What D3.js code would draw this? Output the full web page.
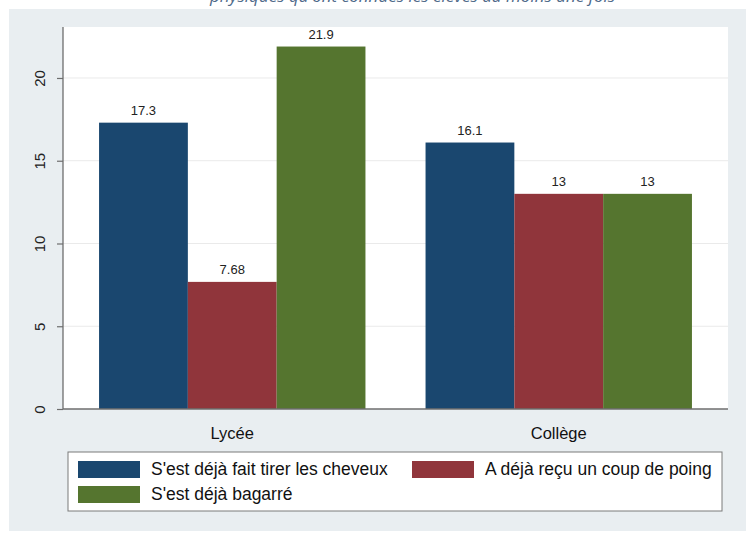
<!DOCTYPE html>
<html>
<head>
<meta charset="utf-8">
<script src="https://cdn.jsdelivr.net/npm/d3@7"></script>
<style>
  html, body { margin: 0; padding: 0; background: #ffffff; }
  svg { display: block; }
  text { font-family: "Liberation Sans", Arial, Helvetica, sans-serif; }
</style>
</head>
<body>
<svg id="chart" width="750" height="534"></svg>
<script>
// Categories, series and values
const categories = ["Lycée", "Collège"];
const seriesNames = [
  "S'est déjà fait tirer les cheveux",
  "A déjà reçu un coup de poing",
  "S'est déjà bagarré"
];
const lyceeValues = [17.3, 7.68, 21.9];
const collegeValues = [16.1, 13, 13];
const valueLabels = [["17.3", "7.68", "21.9"], ["16.1", "13", "13"]];
const yTicks = [0, 5, 10, 15, 20];
const seriesColors = ["#1a476f", "#90353b", "#55752f"];
const headline = "physiques qu'ont connues les élèves au moins une fois";

const rows = categories.map((c, i) => ({
  category: c,
  values: (i === 0 ? lyceeValues : collegeValues),
  labels: valueLabels[i]
}));

const svg = d3.select("#chart");

// Heading line, mostly above the frame
svg.append("text")
  .attr("x", 210).attr("y", 2)
  .attr("font-style", "italic")
  .attr("font-size", 17)
  .attr("fill", "#4f6a8a")
  .style("font-family", "'Open Sans', sans-serif")
  .text(headline);

// Graph region background
svg.append("rect")
  .attr("x", 9).attr("y", 9)
  .attr("width", 737).attr("height", 522)
  .attr("fill", "#e9eef1");

const plot = { left: 63, right: 728, top: 27, bottom: 409 };

// Plot region
svg.append("rect")
  .attr("x", plot.left).attr("y", plot.top)
  .attr("width", plot.right - plot.left).attr("height", plot.bottom - plot.top)
  .attr("fill", "#ffffff");

const y = d3.scaleLinear().domain([0, 23.08]).range([plot.bottom, plot.top]);

const x0 = d3.scaleBand()
  .domain(categories)
  .range([plot.left, plot.right])
  .paddingInner(60 / 326)
  .paddingOuter(36 / 326);

const x1 = d3.scaleBand()
  .domain(d3.range(seriesNames.length))
  .range([0, x0.bandwidth()])
  .padding(0);

// Horizontal gridlines
svg.append("g")
  .selectAll("line")
  .data(yTicks.filter(t => t > 0))
  .join("line")
  .attr("x1", plot.left).attr("x2", plot.right)
  .attr("y1", d => y(d)).attr("y2", d => y(d))
  .attr("stroke", "#eaeaea")
  .attr("stroke-width", 1);

// Bars
const groups = svg.append("g")
  .selectAll("g")
  .data(rows)
  .join("g")
  .attr("transform", d => `translate(${x0(d.category)},0)`);

groups.selectAll("rect")
  .data(d => d.values.map((v, i) => ({ v, i })))
  .join("rect")
  .attr("x", d => x1(d.i))
  .attr("width", x1.bandwidth())
  .attr("y", d => y(d.v))
  .attr("height", d => y(0) - y(d.v))
  .attr("fill", d => seriesColors[d.i]);

groups.selectAll("text")
  .data(d => d.values.map((v, i) => ({ v, i, label: d.labels[i] })))
  .join("text")
  .attr("x", d => x1(d.i) + x1.bandwidth() / 2)
  .attr("y", d => y(d.v) - 8)
  .attr("text-anchor", "middle")
  .attr("font-size", 13)
  .attr("fill", "#222")
  .text(d => d.label);

// Y axis
const yAxis = svg.append("g")
  .attr("transform", `translate(${plot.left},0)`)
  .call(d3.axisLeft(y).tickValues(yTicks).tickSize(6).tickPadding(8).tickSizeOuter(0));
yAxis.select(".domain").attr("stroke", "#6e6e6e").attr("stroke-width", 1.3)
  .attr("d", `M0,${plot.top}V${plot.bottom}`);
yAxis.selectAll(".tick line").attr("stroke", "#6e6e6e").attr("stroke-width", 1.2);
yAxis.selectAll(".tick text")
  .attr("font-size", 15)
  .attr("fill", "#222")
  .attr("text-anchor", "middle")
  .attr("x", 0).attr("dy", 0)
  .attr("transform", "translate(-22,0) rotate(-90)")
  .attr("dominant-baseline", "middle")
  .style("font-family", "'Liberation Sans', Arial, sans-serif");

// X axis
const xAxis = svg.append("g")
  .attr("transform", `translate(0,${plot.bottom})`)
  .call(d3.axisBottom(x0).tickSize(0).tickPadding(18).tickSizeOuter(0));
xAxis.select(".domain").attr("stroke", "#6e6e6e").attr("stroke-width", 1.3)
  .attr("d", `M${plot.left},0H${plot.right}`);
xAxis.selectAll(".tick text")
  .attr("font-size", 16.5)
  .attr("fill", "#111")
  .style("font-family", "'Liberation Sans', Arial, sans-serif");

// Legend
const legend = svg.append("g");
legend.append("rect")
  .attr("x", 68).attr("y", 452)
  .attr("width", 654).attr("height", 59)
  .attr("fill", "#ffffff")
  .attr("stroke", "#7a7a7a")
  .attr("stroke-width", 1);

const legendPos = [
  { x: 78, y: 461 },
  { x: 412, y: 461 },
  { x: 78, y: 486 }
];
const items = legend.selectAll("g.item")
  .data(seriesNames.map((name, i) => ({ name, i })))
  .join("g")
  .attr("class", "item")
  .attr("transform", d => `translate(${legendPos[d.i].x},${legendPos[d.i].y})`);
items.append("rect")
  .attr("width", 62).attr("height", 17)
  .attr("fill", d => seriesColors[d.i]);
items.append("text")
  .attr("x", 73).attr("y", 9)
  .attr("dominant-baseline", "middle")
  .attr("font-size", 17.5)
  .attr("fill", "#111")
  .text(d => d.name);
</script>
</body>
</html>
